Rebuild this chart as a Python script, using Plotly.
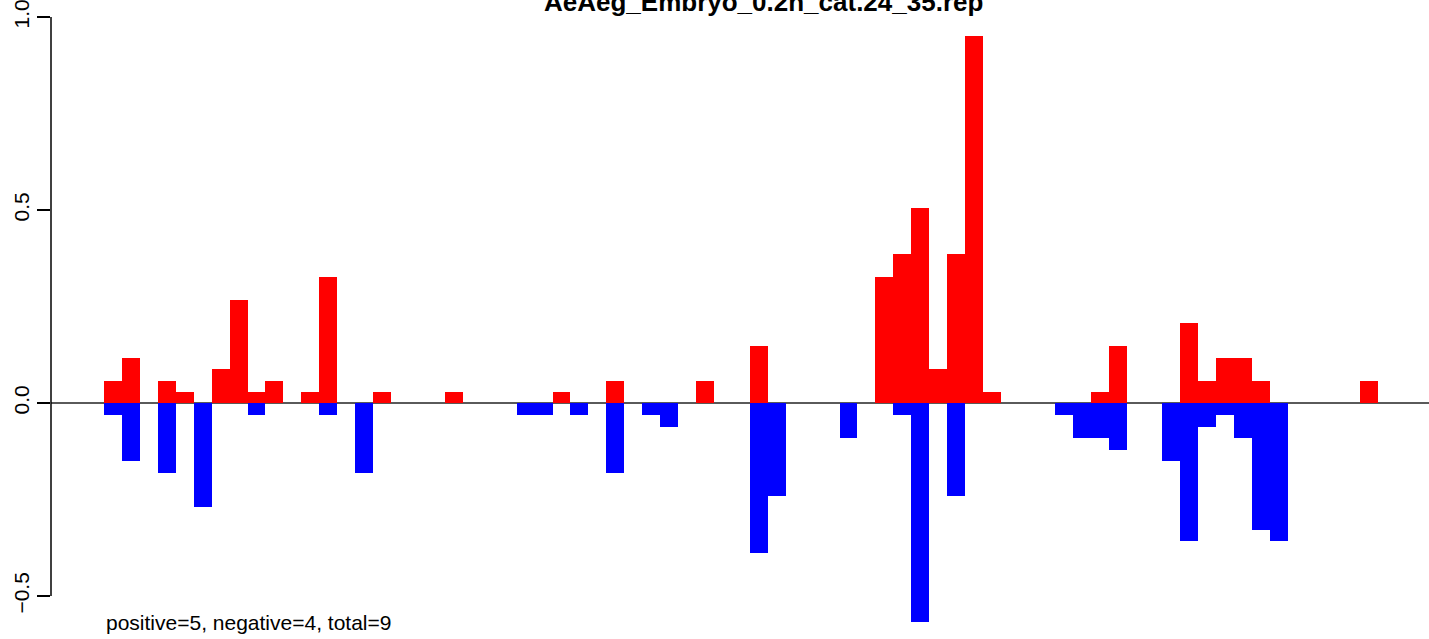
import plotly.graph_objects as go

# ---- data ----
n_bars = 74
positions = list(range(n_bars))

pos_idx = [0, 1, 3, 4, 6, 7, 8, 9, 11, 12, 15, 19, 25, 28, 33, 36, 43, 44, 45, 46,
           47, 48, 49, 55, 56, 60, 61, 62, 63, 64, 70]
pos_val = [0.057, 0.117, 0.057, 0.028, 0.088, 0.267, 0.028, 0.057, 0.028, 0.326,
           0.028, 0.028, 0.028, 0.057, 0.057, 0.148, 0.326, 0.386, 0.505, 0.088,
           0.386, 0.951, 0.028, 0.028, 0.148, 0.207, 0.057, 0.117, 0.117, 0.057, 0.057]

neg_idx = [0, 1, 3, 5, 8, 12, 14, 23, 24, 26, 28, 30, 31, 36, 37, 41, 44, 45, 47,
           53, 54, 55, 56, 59, 60, 61, 62, 63, 64, 65]
neg_val = [-0.031, -0.150, -0.181, -0.269, -0.031, -0.031, -0.181, -0.031, -0.031,
           -0.031, -0.181, -0.031, -0.062, -0.389, -0.241, -0.091, -0.031, -0.567,
           -0.241, -0.031, -0.091, -0.091, -0.122, -0.150, -0.358, -0.062, -0.031,
           -0.091, -0.329, -0.358]

y_ticks = [-0.5, 0.0, 0.5, 1.0]
title_text = "AeAeg_Embryo_0.2h_cat.24_35.rep"
footer_text = "positive=5, negative=4, total=9"

positive = [0.0] * n_bars
for i, v in zip(pos_idx, pos_val):
    positive[i] = v
negative = [0.0] * n_bars
for i, v in zip(neg_idx, neg_val):
    negative[i] = v

FONT = "Liberation Sans, Arial, Helvetica, sans-serif"

fig = go.Figure()
fig.add_trace(go.Bar(x=positions, y=positive, width=1.0, marker=dict(color="#FF0000", line=dict(width=0)),
                     showlegend=False, hoverinfo="x+y"))
fig.add_trace(go.Bar(x=positions, y=negative, width=1.0, marker=dict(color="#0000FF", line=dict(width=0)),
                     showlegend=False, hoverinfo="x+y"))

# plot area: pixel rows 10..629 ; zero at row 403, 386 px per unit
fig.update_layout(
    width=1429, height=639,
    margin=dict(l=51, r=0, t=10, b=10, autoexpand=False),
    paper_bgcolor="white", plot_bgcolor="white",
    barmode="overlay", bargap=0,
    font=dict(family=FONT, color="black", size=21),
    xaxis=dict(range=[-3.454, 73.357], visible=False, fixedrange=True, automargin=False),
    yaxis=dict(range=[-0.5855, 1.0181], tickvals=y_ticks, tickformat=".1f",
               ticks="outside", ticklen=13, tickwidth=1.5, tickcolor="black",
               tickangle=-90, tickfont=dict(size=21, family=FONT, color="black"),
               automargin=False, ticklabeloverflow="allow",
               showgrid=False, zeroline=False, showline=False, fixedrange=True),
    shapes=[
        dict(type="line", xref="paper", yref="y", x0=0, x1=1, y0=0, y1=0,
             line=dict(color="#5a5a5a", width=2), layer="below"),
        dict(type="line", xref="paper", yref="y", x0=0, x1=0, y0=y_ticks[0], y1=y_ticks[-1],
             line=dict(color="black", width=1.5)),
    ],
    annotations=[
        dict(text="<b>" + title_text + "</b>", xref="paper", yref="paper",
             x=0.5167, y=1.0, xanchor="center", yanchor="bottom", yshift=-9,
             showarrow=False, font=dict(size=26, family=FONT, color="black")),
        dict(text=footer_text, xref="x", yref="paper", x=-0.5, y=-0.012,
             xanchor="left", yanchor="bottom", showarrow=False,
             font=dict(size=21, family=FONT, color="black")),
    ],
)

fig.write_html(
    "out.html",
    config={"displayModeBar": False},
    post_script="document.body.style.margin='0';document.body.style.overflow='hidden';",
)
